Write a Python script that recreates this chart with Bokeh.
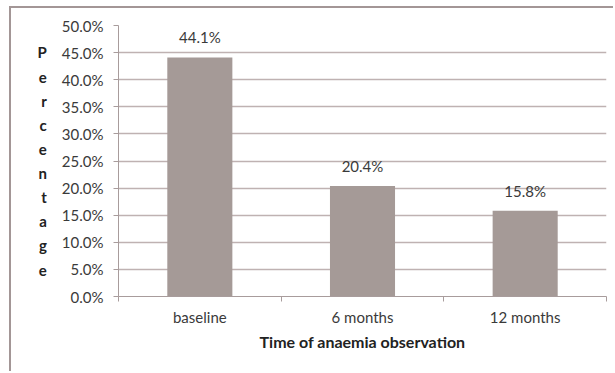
import numpy as np
from bokeh.plotting import figure
from bokeh.models import (ColumnDataSource, Range1d, FixedTicker, NumeralTickFormatter)
from bokeh.core.properties import value
from bokeh.embed import file_html
from bokeh.resources import INLINE

categories = ["baseline", "6 months", "12 months"]
percent = [44.1, 20.4, 15.8]
y_ticks = [0, 5, 10, 15, 20, 25, 30, 35, 40, 45, 50]
x_title = "Time of anaemia observation"
y_title = "Percentage"

FONT = "Lato"
TXT = "#3a3a3a"
GRID = "#bfb2b2"
AXIS = "#a89c9c"
BAR = "#a59a97"

xs = np.arange(len(categories)) + 0.5
vals = np.array(percent) / 100.0
src = ColumnDataSource(dict(x=xs, top=vals, lab=[f"{v:.1f}%" for v in percent]))

p = figure(width=604, height=365, output_backend="svg", toolbar_location=None,
           x_range=Range1d(0, len(categories)), y_range=Range1d(0, 0.5),
           min_border_left=107, min_border_right=9, min_border_top=17, min_border_bottom=77)
p.styles = {"margin-left": "9px", "margin-top": "6px",
            "border-left": "2px solid #a39696", "border-top": "2px solid #a39696"}
p.outline_line_color = None
p.background_fill_color = "white"
p.border_fill_color = "white"

p.vbar(x="x", top="top", width=0.4, source=src, fill_color=BAR, line_color=None)
p.text(x="x", y="top", text="lab", source=src, text_align="center", text_baseline="middle",
       y_offset=-20, text_font_size="15px", text_color=TXT, text_font=value(FONT))

# y axis
p.yaxis.ticker = FixedTicker(ticks=[t / 100 for t in y_ticks])
p.yaxis.formatter = NumeralTickFormatter(format="0.0%")
p.yaxis.major_tick_out = 5
p.yaxis.major_tick_in = 0
p.yaxis.minor_tick_line_color = None
p.yaxis.axis_line_color = AXIS
p.yaxis.major_tick_line_color = AXIS
p.yaxis.major_label_text_font = FONT
p.yaxis.major_label_text_font_size = "15px"
p.yaxis.major_label_text_color = TXT
p.yaxis.major_label_standoff = 10
p.yaxis.axis_label = "\n".join(y_title)
p.yaxis.axis_label_orientation = "horizontal"
p.yaxis.axis_label_text_font = FONT
p.yaxis.axis_label_text_font_style = "bold"
p.yaxis.axis_label_text_font_size = "15px"
p.yaxis.axis_label_text_color = "#222222"
p.yaxis.axis_label_text_line_height = 1.34
p.yaxis.axis_label_standoff = 12

# x axis
p.xaxis.ticker = FixedTicker(ticks=list(xs), minor_ticks=list(range(len(categories) + 1)))
p.xaxis.major_label_overrides = {float(x): c for x, c in zip(xs, categories)}
p.xaxis.major_tick_line_color = None
p.xaxis.minor_tick_line_color = AXIS
p.xaxis.minor_tick_out = 5
p.xaxis.minor_tick_in = 0
p.xaxis.axis_line_color = AXIS
p.xaxis.major_label_text_font = FONT
p.xaxis.major_label_text_font_size = "15px"
p.xaxis.major_label_text_color = TXT
p.xaxis.major_label_standoff = 5
p.xaxis.axis_label = x_title
p.xaxis.axis_label_text_font = FONT
p.xaxis.axis_label_text_font_style = "bold"
p.xaxis.axis_label_text_font_size = "16px"
p.xaxis.axis_label_text_color = "#222222"
p.xaxis.axis_label_standoff = 3

p.xgrid.grid_line_color = None
p.ygrid.grid_line_color = GRID
p.ygrid.grid_line_width = 1.5

open("out.html", "w").write(file_html(p, INLINE))
